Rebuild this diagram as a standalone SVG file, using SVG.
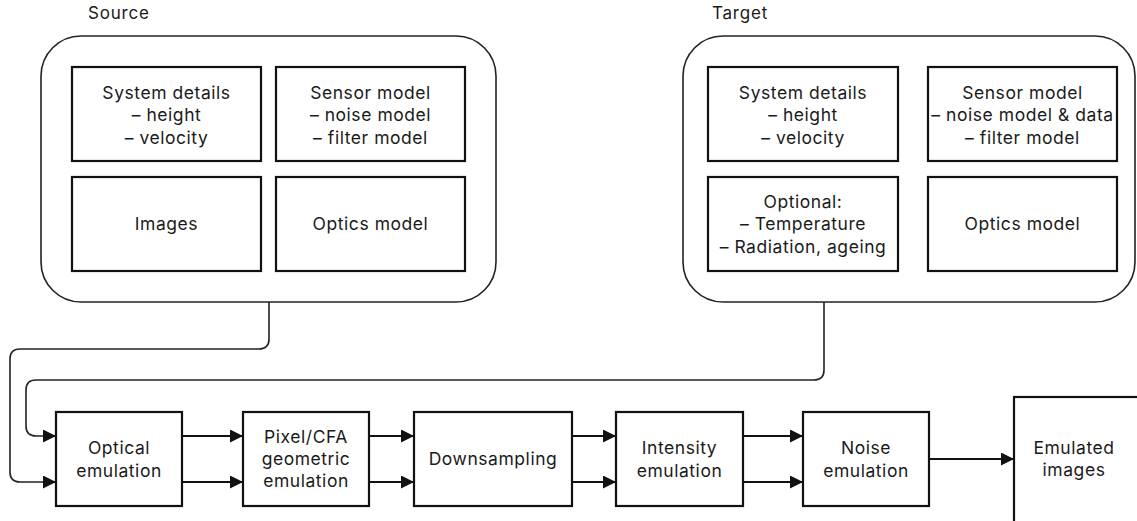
<svg xmlns="http://www.w3.org/2000/svg" width="1137" height="521" viewBox="0 0 1137 521">
<style>
  text { font-family: Inter, "Liberation Sans", sans-serif; font-size: 17.5px; letter-spacing: 0.55px; fill: #1a1a1a; text-anchor: middle; }
  .lbl { text-anchor: start; font-size: 17px; letter-spacing: 0.8px; }
  .cont { fill: #fff; stroke: #222; stroke-width: 1.6; }
  .box { fill: #fff; stroke: #111; stroke-width: 2.2; }
  .conn { fill: none; stroke: #222; stroke-width: 1.6; }
  .arr { fill: none; stroke: #111; stroke-width: 2; marker-end: url(#ah); }
</style>
<defs>
  <marker id="ah" markerUnits="userSpaceOnUse" markerWidth="14" markerHeight="14" refX="13" refY="6.5" orient="auto">
    <path d="M0,0 L13,6.5 L0,13 z" fill="#111"/>
  </marker>
</defs>
<rect width="1137" height="521" fill="#fff"/>

<g id="source">
  <text class="lbl" x="88" y="19">Source</text>
  <rect class="cont" x="41" y="36" width="455" height="266" rx="40" ry="40"/>
  <g id="src-system">
    <rect class="box" x="72" y="67" width="189" height="94"/>
    <text x="166.5" y="99">System details</text>
    <text x="166.5" y="121">– height</text>
    <text x="166.5" y="144">– velocity</text>
  </g>
  <g id="src-sensor">
    <rect class="box" x="276" y="67" width="189" height="94"/>
    <text x="370.5" y="99">Sensor model</text>
    <text x="370.5" y="121">– noise model</text>
    <text x="370.5" y="144">– filter model</text>
  </g>
  <g id="src-images">
    <rect class="box" x="72" y="177" width="189" height="94"/>
    <text x="166.5" y="230">Images</text>
  </g>
  <g id="src-optics">
    <rect class="box" x="276" y="177" width="189" height="94"/>
    <text x="370.5" y="230">Optics model</text>
  </g>
</g>

<g id="target">
  <text class="lbl" x="712" y="19">Target</text>
  <rect class="cont" x="683" y="36" width="452" height="266" rx="40" ry="40"/>
  <g id="tgt-system">
    <rect class="box" x="708" y="67" width="190" height="94"/>
    <text x="803" y="99">System details</text>
    <text x="803" y="121">– height</text>
    <text x="803" y="144">– velocity</text>
  </g>
  <g id="tgt-sensor">
    <rect class="box" x="928" y="67" width="189" height="94"/>
    <text x="1022.5" y="99">Sensor model</text>
    <text x="1022.5" y="121">– noise model &amp; data</text>
    <text x="1022.5" y="144">– filter model</text>
  </g>
  <g id="tgt-optional">
    <rect class="box" x="708" y="177" width="190" height="94"/>
    <text x="803" y="208">Optional:</text>
    <text x="803" y="230">– Temperature</text>
    <text x="803" y="253">– Radiation, ageing</text>
  </g>
  <g id="tgt-optics">
    <rect class="box" x="928" y="177" width="189" height="94"/>
    <text x="1022.5" y="230">Optics model</text>
  </g>
</g>

<g id="optical">
  <rect class="box" x="56" y="412" width="126" height="94"/>
  <text x="119" y="454">Optical</text>
  <text x="119" y="477">emulation</text>
</g>
<g id="pixel">
  <rect class="box" x="243" y="412" width="126" height="94"/>
  <text x="306" y="443">Pixel/CFA</text>
  <text x="306" y="465">geometric</text>
  <text x="306" y="487">emulation</text>
</g>
<g id="downsampling">
  <rect class="box" x="414" y="412" width="158" height="94"/>
  <text x="493" y="465">Downsampling</text>
</g>
<g id="intensity">
  <rect class="box" x="616" y="412" width="127" height="94"/>
  <text x="679.5" y="454">Intensity</text>
  <text x="679.5" y="477">emulation</text>
</g>
<g id="noise">
  <rect class="box" x="803" y="412" width="126" height="94"/>
  <text x="866" y="454">Noise</text>
  <text x="866" y="477">emulation</text>
</g>
<g id="emulated">
  <rect class="box" x="1014" y="397" width="140" height="140"/>
  <text x="1074" y="454">Emulated</text>
  <text x="1074" y="476">images</text>
</g>

<g id="connectors">
  <path class="conn" d="M269,302 V339 Q269,349 259,349 H20 Q10,349 10,359 V472 Q10,482 20,482 H45"/>
  <path class="arr" d="M44,482 H56"/>
  <path class="conn" d="M824,302 V370 Q824,380 814,380 H36 Q26,380 26,390 V426 Q26,436 36,436 H45"/>
  <path class="arr" d="M44,436 H56"/>
  <path class="arr" d="M182,436 H243"/>
  <path class="arr" d="M182,482 H243"/>
  <path class="arr" d="M369,436 H414"/>
  <path class="arr" d="M369,482 H414"/>
  <path class="arr" d="M572,436 H616"/>
  <path class="arr" d="M572,482 H616"/>
  <path class="arr" d="M743,436 H803"/>
  <path class="arr" d="M743,482 H803"/>
  <path class="arr" d="M929,459 H1014"/>
</g>
</svg>
